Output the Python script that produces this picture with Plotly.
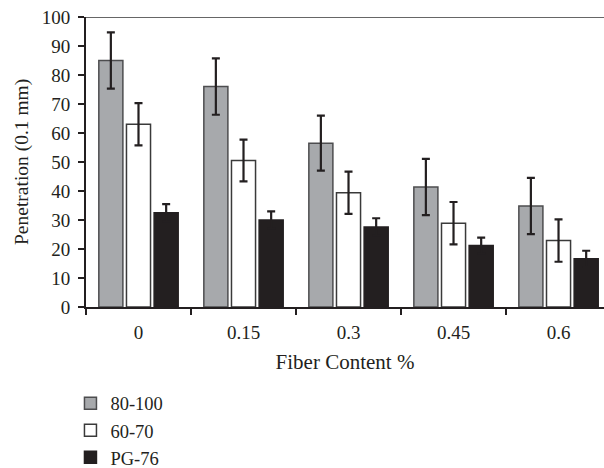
import plotly.graph_objects as go

categories = ["0", "0.15", "0.3", "0.45", "0.6"]
series_names = ["80-100", "60-70", "PG-76"]
vals_80_100 = [85.0, 76.0, 56.5, 41.4, 34.8]
err_80_100 = [9.7, 9.7, 9.5, 9.7, 9.7]
vals_60_70 = [63.0, 50.5, 39.4, 28.9, 22.9]
err_60_70 = [7.3, 7.2, 7.3, 7.3, 7.3]
vals_pg76 = [32.5, 30.0, 27.6, 21.2, 16.6]
err_pg76 = [3.0, 3.0, 3.0, 2.7, 2.8]

FONT = "Liberation Serif"
DARK = "#231f20"

fig = go.Figure()
specs = [
    (series_names[0], vals_80_100, err_80_100, "#a7a9ac", "#4d4d4f"),
    (series_names[1], vals_60_70, err_60_70, "#ffffff", "#3a3a3a"),
    (series_names[2], vals_pg76, err_pg76, DARK, DARK),
]
for name, v, e, fill, line in specs:
    fig.add_trace(go.Bar(
        x=categories, y=v, name=name,
        marker=dict(color=fill, line=dict(color=line, width=1.5)),
        error_y=dict(type="data", array=e, visible=True, color=DARK, thickness=2.2, width=4),
    ))

fig.add_shape(type="line", xref="paper", yref="y", x0=0, x1=1, y0=100, y1=100,
              line=dict(color="#333333", width=1.5))

fig.add_annotation(text="Penetration (0.1 mm)", textangle=-90,
                   xref="paper", yref="paper", x=-0.1236, y=0.5,
                   xanchor="center", yanchor="middle", showarrow=False,
                   font=dict(family=FONT, size=19.5, color=DARK))

fig.update_layout(
    width=604, height=468,
    margin=dict(l=86, r=0, t=17, b=161, autoexpand=False),
    paper_bgcolor="white", plot_bgcolor="white",
    barmode="group", bargap=0.21, bargroupgap=0.13,
    font=dict(family=FONT, size=19, color=DARK),
    showlegend=True,
    legend=dict(orientation="v", x=-0.03, xanchor="left", y=-0.268, yanchor="top",
                font=dict(family=FONT, size=18.5, color=DARK), traceorder="normal",
                tracegroupgap=0),
    xaxis=dict(
        type="category", range=[-0.5, 4.433], tickson="boundaries",
        showline=True, linecolor=DARK, linewidth=2,
        ticks="outside", ticklen=6, tickwidth=2, tickcolor=DARK,
        tickfont=dict(family=FONT, size=19, color=DARK), ticklabelstandoff=7,
        showgrid=False, zeroline=False,
        title=dict(text="Fiber Content %", font=dict(family=FONT, size=21, color=DARK), standoff=13),
    ),
    yaxis=dict(
        range=[0, 100], dtick=10,
        showline=True, linecolor=DARK, linewidth=2,
        ticks="outside", ticklen=6, tickwidth=2, tickcolor=DARK,
        tickfont=dict(family=FONT, size=19, color=DARK), ticklabelstandoff=4,
        showgrid=False, zeroline=False,
    ),
)

fig.write_html("out.html", config={"displayModeBar": False},
               post_script="document.body.style.margin='0';document.body.style.overflow='hidden';")
